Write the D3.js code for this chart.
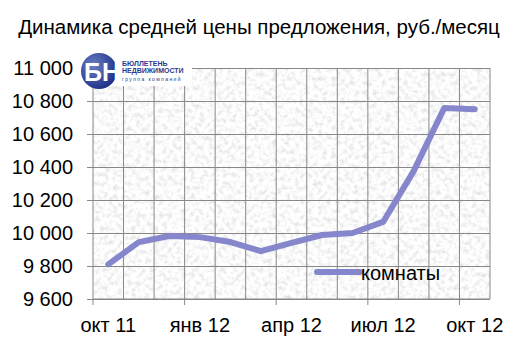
<!DOCTYPE html>
<html>
<head>
<meta charset="utf-8">
<script src="https://cdn.jsdelivr.net/npm/d3@7"></script>
<style>
  body { margin: 0; background: #fff; }
  svg { display: block; }
</style>
</head>
<body>
<div id="chart"></div>
<script>
var months = ['окт 11','ноя 11','дек 11','янв 12','фев 12','мар 12','апр 12',
              'май 12','июн 12','июл 12','авг 12','сен 12','окт 12'];
var rooms = [9810, 9945, 9982, 9975, 9945, 9890, 9940, 9988, 10000, 10067, 10375, 10757, 10750];
var yTicks = [9600, 9800, 10000, 10200, 10400, 10600, 10800, 11000];
var xLabelIdx = [0, 3, 6, 9, 12];

var width = 510, height = 361;
var margin = {left: 93, right: 20, top: 68, bottom: 62};
var font = 'Arial, "Liberation Sans", sans-serif';
var fs = '20px';
var line_color = '#8686cc';

var svg = d3.select('#chart').append('svg')
    .attr('width', width)
    .attr('height', height);

// granite texture for plot area
var defs = svg.append('defs');
var filt = defs.append('filter')
    .attr('id', 'granite')
    .attr('x', 0).attr('y', 0).attr('width', 1).attr('height', 1);
filt.append('feTurbulence')
    .attr('type', 'fractalNoise')
    .attr('baseFrequency', 0.22)
    .attr('numOctaves', 4)
    .attr('seed', 7);
filt.append('feColorMatrix')
    .attr('type', 'matrix')
    .attr('values', '0.55 0 0 0 0.68  0.55 0 0 0 0.68  0.55 0 0 0 0.68  0 0 0 0 1');

var x = d3.scaleBand()
    .domain(months)
    .range([margin.left, width - margin.right])
    .padding(0);

var y = d3.scaleLinear()
    .domain([9600, 11000])
    .range([height - margin.bottom, margin.top]);

var plot_w = width - margin.right - margin.left;
var plot_h = height - margin.bottom - margin.top;

svg.append('rect')
    .attr('x', margin.left)
    .attr('y', margin.top)
    .attr('width', plot_w)
    .attr('height', plot_h)
    .attr('filter', 'url(#granite)');

// grid: vertical at category boundaries
svg.append('g')
    .selectAll('line')
    .data(months.concat(['end']))
    .enter()
    .append('line')
    .attr('x1', function(d, i){ return margin.left + x.bandwidth() * i; })
    .attr('x2', function(d, i){ return margin.left + x.bandwidth() * i; })
    .attr('y1', margin.top)
    .attr('y2', height - margin.bottom)
    .attr('stroke', '#888')
    .attr('stroke-width', 1);

// y axis
var yAxis = svg.append('g')
    .attr('transform', 'translate(' + margin.left + ',0)')
    .call(d3.axisLeft(y)
      .tickValues(yTicks)
      .tickSize(-plot_w)
      .tickPadding(20)
      .tickFormat(function(d){ return d3.format(',')(d).replace(',', ' '); }));
yAxis.select('.domain').remove();
yAxis.selectAll('.tick line')
    .attr('stroke', '#888')
    .attr('x1', -6);
yAxis.selectAll('text')
    .style('font-family', font)
    .style('font-size', fs)
    .attr('fill', '#000');

// x axis ticks at boundaries of every 3rd category
var xAxis = svg.append('g')
    .attr('transform', 'translate(0,' + (height - margin.bottom) + ')');
xAxis.append('line')
    .attr('x1', margin.left)
    .attr('x2', width - margin.right)
    .attr('stroke', '#888');
xAxis.selectAll('line.tk')
    .data(xLabelIdx)
    .enter()
    .append('line')
    .classed('tk', true)
    .attr('x1', function(d){ return x(months[d]); })
    .attr('x2', function(d){ return x(months[d]); })
    .attr('y1', 0)
    .attr('y2', 6)
    .attr('stroke', '#888');
xAxis.selectAll('text')
    .data(xLabelIdx)
    .enter()
    .append('text')
    .attr('x', function(d){ return x(months[d]) + x.bandwidth() / 2; })
    .attr('y', 33)
    .attr('text-anchor', 'middle')
    .style('font-family', font)
    .style('font-size', fs)
    .text(function(d){ return months[d]; });

// series line
var line = d3.line()
    .x(function(d, i){ return x(months[i]) + x.bandwidth() / 2; })
    .y(function(d){ return y(d); });

svg.append('path')
    .datum(rooms)
    .attr('d', line)
    .attr('fill', 'none')
    .attr('stroke', line_color)
    .attr('stroke-width', 6)
    .attr('stroke-linecap', 'round')
    .attr('stroke-linejoin', 'round');

// legend
var legend = svg.append('g')
    .attr('transform', 'translate(317, 272)');
legend.append('line')
    .attr('x1', 0).attr('x2', 43)
    .attr('stroke', line_color)
    .attr('stroke-width', 6)
    .attr('stroke-linecap', 'round');
legend.append('text')
    .attr('x', 44)
    .attr('y', 8)
    .style('font-family', font)
    .style('font-size', fs)
    .text('комнаты');

// title
svg.append('text')
    .attr('x', 259)
    .attr('y', 34)
    .attr('text-anchor', 'middle')
    .style('font-family', font)
    .style('font-size', '20.5px')
    .text('Динамика средней цены предложения, руб./месяц');

// logo
var logo = svg.append('g')
    .attr('transform', 'translate(80, 55)');
var grad = defs.append('radialGradient')
    .attr('id', 'logo_grad')
    .attr('cx', '35%').attr('cy', '35%').attr('r', '70%');
grad.append('stop').attr('offset', '0%').attr('stop-color', '#6a7fc4');
grad.append('stop').attr('offset', '100%').attr('stop-color', '#1d2f86');
logo.append('rect')
    .attr('x', 30).attr('y', 3)
    .attr('width', 82).attr('height', 28)
    .attr('fill', '#fff');
logo.append('circle')
    .attr('cx', 19).attr('cy', 16)
    .attr('r', 18)
    .attr('fill', 'url(#logo_grad)');
logo.append('text')
    .attr('x', 22).attr('y', 26)
    .attr('text-anchor', 'middle')
    .style('font-family', font)
    .style('font-weight', 'bold')
    .style('font-size', '25px')
    .attr('fill', '#fff')
    .text('БН');
logo.append('text')
    .attr('x', 42).attr('y', 11)
    .style('font-family', font)
    .style('font-weight', 'bold')
    .style('font-size', '7px')
    .attr('fill', '#2a3a8c')
    .text('БЮЛЛЕТЕНЬ');
logo.append('text')
    .attr('x', 42).attr('y', 18)
    .style('font-family', font)
    .style('font-weight', 'bold')
    .style('font-size', '7px')
    .attr('fill', '#2a3a8c')
    .text('НЕДВИЖИМОСТИ');
logo.append('text')
    .attr('x', 42).attr('y', 26)
    .style('font-family', font)
    .style('font-size', '5px')
    .style('letter-spacing', '1.4px')
    .attr('fill', '#2a3a8c')
    .text('группа компаний');
</script>
</body>
</html>
